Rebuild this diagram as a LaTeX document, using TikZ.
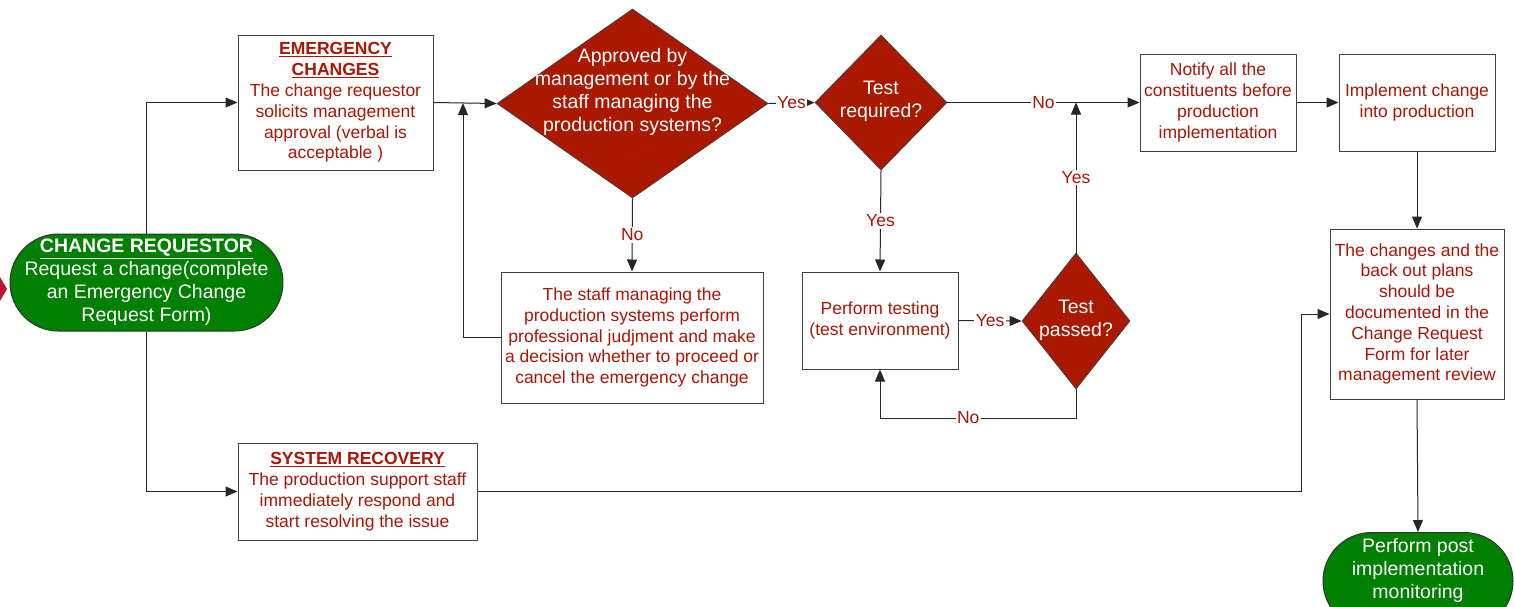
\documentclass[tikz,border=0pt]{standalone}
\usepackage{fontspec}
\setmainfont{Liberation Sans}
\usetikzlibrary{shapes.geometric,arrows.meta}
\definecolor{tred}{RGB}{172,22,4}
\definecolor{dred}{RGB}{170,24,0}
\definecolor{tgreen}{RGB}{0,128,0}
\definecolor{crim}{RGB}{190,20,50}
\tikzset{
  box/.style={draw=black!75, fill=white, line width=1pt, inner sep=0pt, align=center, text=tred,
    font=\fontsize{17.5}{20.8}\selectfont},
  dia/.style={diamond, draw=black!75, fill=dred, line width=0.8pt, inner sep=0pt},
  wtext/.style={text=white, align=center, inner sep=0pt, font=\fontsize{19.5}{23}\selectfont},
  term/.style={draw=black!80, fill=tgreen, line width=1pt, rounded corners=48.5pt, inner sep=0pt,
    align=center, text=white, font=\fontsize{19.5}{23}\selectfont},
  conn/.style={-{Triangle[length=12pt,width=10pt]}, line width=1pt, draw=black!85},
  lbl/.style={text=tred, fill=white, inner sep=1.5pt, font=\fontsize{17.5}{20}\selectfont}
}
\begin{document}
\begin{tikzpicture}[x=1pt,y=-1pt]
\useasboundingbox (0,0) rectangle (1514,606);
\fill[white] (0,0) rectangle (1514,606);

% partial shape at the left edge
\fill[crim] (0,277) -- (7,289) -- (0,301) -- cycle;

% nodes
\node[term, minimum width=273pt, minimum height=97pt] (req) at (146.5,282.5)
  {\underline{\textbf{CHANGE REQUESTOR}}\\Request a change(complete\\an Emergency Change\\Request Form)};

\node[box, minimum width=195pt, minimum height=135pt] (emerg) at (335.5,102.5)
  {\underline{\textbf{EMERGENCY}}\\\underline{\textbf{CHANGES}}\\The change requestor\\solicits management\\approval (verbal is\\acceptable )};

\node[dia, minimum width=271pt, minimum height=189pt] (d1) at (632.5,103.5) {};
\node[wtext] (d1t) at (632.5,91.5)
  {Approved by\\management or by the\\staff managing the\\production systems?};

\node[dia, minimum width=132pt, minimum height=135pt] (tr) at (881,102.5) {};
\node[wtext] (trt) at (881,101.5) {Test\\required?};

\node[box, minimum width=156pt, minimum height=97pt] (notify) at (1218,102.5)
  {Notify all the\\constituents before\\production\\implementation};

\node[box, minimum width=156pt, minimum height=97pt] (impl) at (1417,102.5)
  {Implement change\\into production};

\node[box, minimum width=174pt, minimum height=170pt] (chg) at (1417,314)
  {The changes and the\\back out plans\\should be\\documented in the\\Change Request\\Form for later\\management review};

\node[term, minimum width=190pt, minimum height=97pt] (post) at (1418,581) {};
\node[wtext] (postt) at (1418,570) {Perform post\\implementation\\monitoring};

\node[box, minimum width=262pt, minimum height=131pt] (staff) at (632,337.5)
  {The staff managing the\\production systems perform\\professional judjment and make\\a decision whether to proceed or\\cancel the emergency change};

\node[box, minimum width=156pt, minimum height=97pt] (pt) at (880,320.5)
  {Perform testing\\(test environment)};

\node[dia, minimum width=108pt, minimum height=136pt] (tp) at (1076,321) {};
\node[wtext] (tpt) at (1076,320) {Test\\passed?};

\node[box, minimum width=239pt, minimum height=97pt] (sysrec) at (357.5,491.5)
  {\underline{\textbf{SYSTEM RECOVERY}}\\The production support staff\\immediately respond and\\start resolving the issue};

% junction coordinates
\coordinate (j1) at (463,103);
\coordinate (j2) at (1076,102.5);
\coordinate (j3) at (1301,491.5);
\coordinate (j4) at (1076,418);
\coordinate (j5) at (880,418);

% connectors
\draw[conn] (req.north) |- (emerg.west);
\draw[conn] (req.south) |- (sysrec.west);
\draw[conn] (emerg.east) -- (d1.west);
\draw[conn] (staff.west) -| (j1);
\draw[conn] (d1.south) -- node[lbl]{No} (staff.north);
\draw[conn] (d1.east) -- node[lbl]{Yes} (tr.west);
\draw[conn] (tr.east) -- node[lbl]{No} (notify.west);
\draw[conn] (tr.south) -- node[lbl]{Yes} (pt.north);
\draw[conn] (pt.east) -- node[lbl]{Yes} (tp.west);
\draw[conn] (tp.south) -- (j4) -- node[lbl, pos=0.55]{No} (j5) -- (pt.south);
\draw[conn] (tp.north) -- node[lbl]{Yes} (j2);
\draw[conn] (notify.east) -- (impl.west);
\draw[conn] (impl.south) -- (chg.north);
\draw[conn] (sysrec.east) -- (j3) |- (chg.west);
\draw[conn] (chg.south) -- (post.north);
\end{tikzpicture}
\end{document}
